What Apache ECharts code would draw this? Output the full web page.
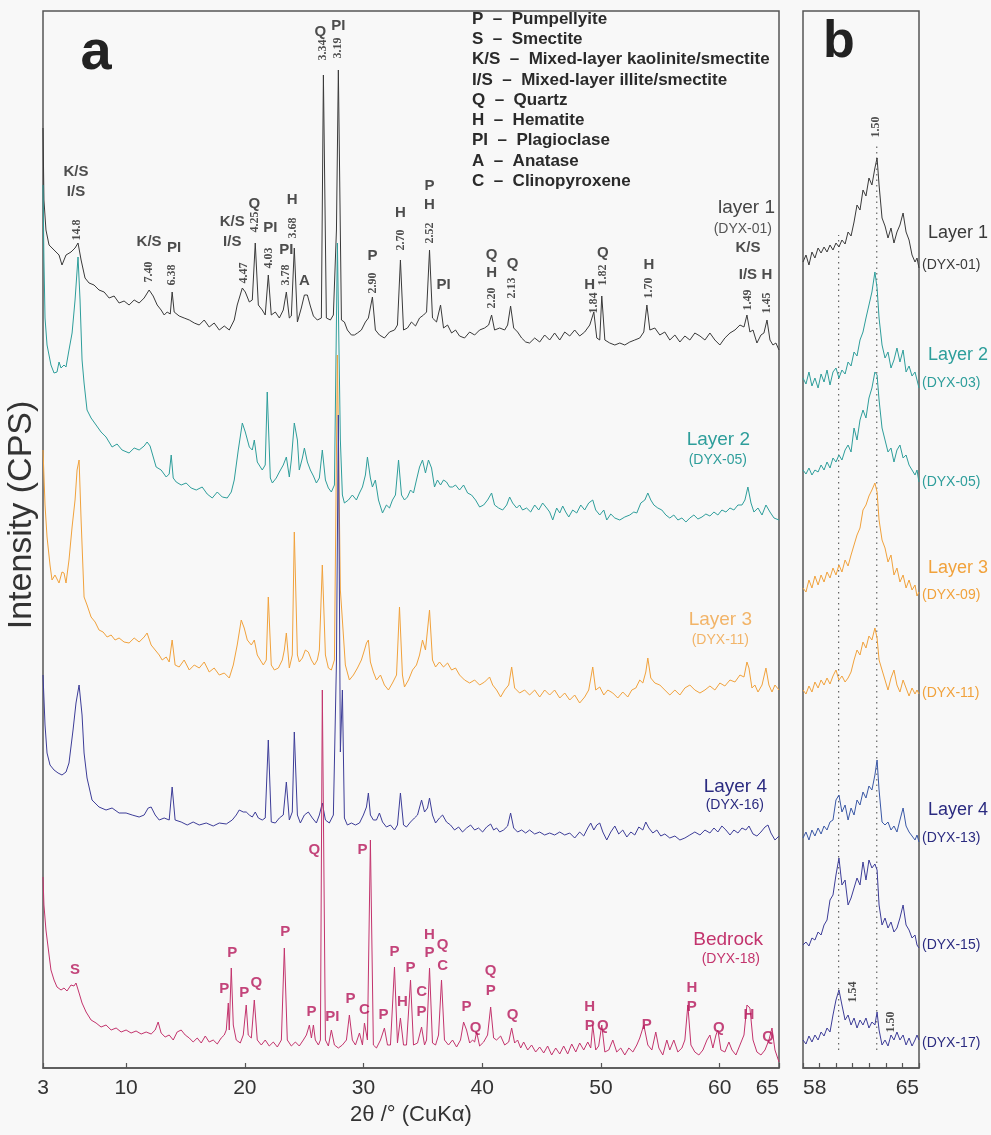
<!DOCTYPE html>
<html>
<head>
<meta charset="utf-8">
<script src="https://cdn.jsdelivr.net/npm/echarts@6/dist/echarts.min.js"></script>
<style>
  html, body { margin: 0; padding: 0; background: #f8f8f8; }
  #chart { width: 991px; height: 1135px; }
</style>
</head>
<body>
<div id="chart"></div>
<script>
// ---------- axis ticks ----------
const fullTicks = [3, 10, 20, 30, 40, 50, 60, 65];
const zoomTicks = [58, 59, 60, 61, 62, 63, 64, 65];

// ---------- panel a: full XRD patterns, [2θ, counts above own baseline] ----------
const layer1 = [
  [3.00,222],[3.08,150],[3.25,120],[3.51,105],[3.93,100],[4.35,95],[4.60,85],[4.94,95],[5.36,98],[5.70,102],
  [5.95,107],[6.21,90],[6.54,72],[6.88,67],[7.30,65],[7.72,60],[8.15,58],[8.57,52],[8.99,54],[9.41,47],
  [9.83,49],[10.25,45],[10.68,50],[11.10,47],[11.52,52],[11.94,60],[12.28,54],[12.62,45],[12.95,40],[13.21,35],
  [13.46,38],[13.72,36],[13.88,58],[14.05,38],[14.47,34],[14.89,32],[15.32,30],[15.74,27],[16.16,25],[16.58,30],
  [17.00,23],[17.42,27],[17.85,20],[18.27,24],[18.69,20],[19.11,30],[19.36,45],[19.79,62],[20.04,58],[20.38,48],
  [20.63,50],[20.88,107],[21.14,45],[21.47,40],[21.72,35],[21.98,75],[22.23,35],[22.57,38],[22.91,32],[23.24,40],
  [23.50,58],[23.75,32],[23.92,34],[24.17,102],[24.43,28],[24.76,42],[25.02,55],[25.27,55],[25.52,44],[25.78,34],
  [26.11,30],[26.45,32],[26.62,275],[26.87,32],[27.21,30],[27.46,35],[27.72,120],[27.88,280],[28.14,30],[28.39,28],
  [28.64,20],[28.98,15],[29.23,15],[29.49,17],[29.82,20],[30.16,28],[30.41,32],[30.75,53],[31.00,20],[31.34,15],
  [31.76,12],[32.19,18],[32.61,20],[32.86,25],[33.11,90],[33.37,20],[33.70,22],[34.04,28],[34.38,24],[34.72,32],
  [35.06,35],[35.31,38],[35.56,100],[35.81,32],[36.15,28],[36.49,45],[36.74,22],[37.08,25],[37.42,17],[37.75,20],
  [38.09,14],[38.51,12],[38.94,18],[39.36,15],[39.78,20],[40.20,22],[40.54,25],[40.79,35],[41.04,20],[41.47,22],
  [41.89,20],[42.14,25],[42.39,44],[42.65,22],[42.98,18],[43.32,12],[43.66,8],[43.99,7],[44.42,12],[44.84,8],
  [45.26,15],[45.68,10],[46.10,17],[46.53,10],[46.95,18],[47.37,14],[47.79,20],[48.21,14],[48.63,18],[49.06,25],
  [49.40,38],[49.65,12],[49.90,10],[50.07,54],[50.33,10],[50.74,7],[51.17,5],[51.59,7],[52.01,5],[52.43,8],
  [52.85,10],[53.27,12],[53.61,18],[53.87,45],[54.12,20],[54.54,22],[54.96,15],[55.38,18],[55.80,10],[56.23,15],
  [56.65,8],[57.07,14],[57.49,10],[57.91,17],[58.34,14],[58.76,10],[59.18,17],[59.60,10],[60.02,5],[60.44,12],
  [60.87,17],[61.29,20],[61.71,25],[62.05,23],[62.30,35],[62.55,18],[62.81,20],[63.14,7],[63.48,15],[63.73,17],
  [63.99,30],[64.24,10],[64.49,5],[64.74,7],[65.00,0]
];

const layer2 = [
  [3.00,340],[3.08,265],[3.17,207],[3.34,180],[3.67,160],[3.93,152],[4.18,153],[4.35,163],[4.52,157],[4.77,160],
  [4.94,158],[5.19,175],[5.45,192],[5.70,225],[5.95,268],[6.12,225],[6.29,165],[6.46,142],[6.71,115],[7.05,107],
  [7.47,100],[7.89,93],[8.31,88],[8.82,78],[9.24,81],[9.66,75],[10.25,72],[10.68,77],[11.10,75],[11.52,79],
  [11.77,83],[12.02,79],[12.53,58],[12.95,55],[13.38,48],[13.63,51],[13.80,70],[13.97,47],[14.22,43],[14.64,40],
  [15.06,42],[15.48,37],[15.91,35],[16.41,38],[16.83,31],[17.26,27],[17.68,33],[18.10,28],[18.52,27],[18.86,33],
  [19.11,45],[19.45,75],[19.79,102],[20.04,93],[20.38,78],[20.63,75],[20.80,85],[21.05,63],[21.47,55],[21.72,60],
  [21.89,133],[22.15,47],[22.32,42],[22.65,47],[22.91,53],[23.24,60],[23.50,68],[23.75,48],[23.92,65],[24.17,102],
  [24.43,85],[24.59,55],[24.85,67],[25.02,77],[25.27,63],[25.52,55],[25.78,49],[26.03,42],[26.28,47],[26.53,75],
  [26.79,45],[27.04,37],[27.29,33],[27.55,40],[27.80,282],[28.05,85],[28.22,30],[28.39,22],[28.73,25],[29.06,30],
  [29.40,25],[29.66,32],[29.91,38],[30.16,50],[30.33,68],[30.58,47],[30.75,38],[31.00,45],[31.26,25],[31.60,12],
  [31.93,20],[32.19,17],[32.44,25],[32.69,30],[32.95,65],[33.20,30],[33.45,25],[33.70,28],[33.96,35],[34.21,32],
  [34.46,45],[34.72,58],[34.97,65],[35.22,52],[35.47,65],[35.73,57],[35.98,38],[36.23,45],[36.49,40],[36.74,45],
  [36.99,43],[37.25,38],[37.50,38],[37.75,40],[38.09,35],[38.43,40],[38.77,32],[39.10,30],[39.44,25],[39.78,18],
  [40.12,20],[40.45,25],[40.79,32],[41.04,20],[41.38,17],[41.72,15],[42.06,20],[42.31,28],[42.56,22],[42.90,17],
  [43.15,20],[43.40,15],[43.74,17],[44.08,13],[44.42,20],[44.76,15],[45.09,22],[45.43,17],[45.68,13],[45.94,5],
  [46.27,17],[46.53,12],[46.78,19],[47.03,13],[47.29,8],[47.62,15],[47.96,12],[48.30,20],[48.63,15],[48.97,22],
  [49.31,25],[49.56,15],[49.90,10],[50.24,15],[50.49,5],[50.83,11],[51.17,7],[51.59,5],[52.01,8],[52.43,10],
  [52.77,13],[53.02,12],[53.36,22],[53.70,25],[53.95,32],[54.20,25],[54.46,20],[54.79,17],[55.13,15],[55.47,10],
  [55.80,7],[56.14,10],[56.48,5],[56.82,7],[57.16,3],[57.49,7],[57.83,10],[58.17,6],[58.51,8],[58.84,11],
  [59.18,9],[59.52,13],[59.85,10],[60.19,15],[60.53,13],[60.87,17],[61.20,15],[61.54,20],[61.88,20],[62.13,25],
  [62.38,38],[62.64,22],[62.89,13],[63.23,17],[63.57,10],[63.90,20],[64.24,13],[64.58,7],[65.00,5]
];

const layer3 = [
  [3.00,255],[3.17,200],[3.34,168],[3.59,140],[3.76,125],[4.01,130],[4.35,122],[4.60,133],[4.77,132],[4.94,122],
  [5.19,145],[5.45,178],[5.70,205],[5.87,235],[6.04,245],[6.21,185],[6.46,108],[6.71,100],[7.05,88],[7.39,83],
  [7.72,75],[8.06,73],[8.40,68],[8.74,70],[9.07,65],[9.41,67],[9.83,63],[10.25,62],[10.68,67],[11.10,63],
  [11.52,68],[11.77,72],[12.11,60],[12.45,55],[12.79,50],[13.04,45],[13.38,48],[13.63,43],[13.88,65],[14.13,40],
  [14.47,38],[14.89,45],[15.32,35],[15.74,40],[16.16,37],[16.58,43],[17.00,33],[17.42,37],[17.85,30],[18.27,32],
  [18.69,27],[19.03,40],[19.36,60],[19.70,85],[19.95,77],[20.21,65],[20.55,60],[20.80,65],[21.05,50],[21.30,45],
  [21.56,40],[21.81,45],[21.98,108],[22.23,40],[22.49,35],[22.83,37],[23.16,45],[23.33,55],[23.50,72],[23.75,37],
  [24.00,50],[24.17,173],[24.43,50],[24.59,43],[24.85,47],[25.10,55],[25.35,53],[25.61,45],[25.86,40],[26.11,45],
  [26.28,55],[26.53,140],[26.79,50],[27.04,37],[27.29,35],[27.55,45],[27.80,350],[28.05,115],[28.22,85],[28.47,40],
  [28.81,25],[29.15,30],[29.49,37],[29.82,45],[30.08,55],[30.25,62],[30.41,65],[30.58,43],[30.83,33],[31.09,25],
  [31.43,30],[31.76,20],[32.10,15],[32.44,22],[32.78,30],[33.03,98],[33.28,30],[33.45,18],[33.79,25],[34.13,35],
  [34.46,40],[34.72,50],[34.97,65],[35.22,55],[35.56,95],[35.81,45],[36.07,38],[36.40,43],[36.74,38],[37.08,42],
  [37.42,35],[37.75,37],[38.09,30],[38.51,25],[38.94,22],[39.36,25],[39.78,20],[40.20,23],[40.62,28],[40.88,20],
  [41.21,15],[41.55,8],[41.89,15],[42.23,20],[42.48,38],[42.73,17],[43.15,12],[43.57,15],[43.99,10],[44.42,15],
  [44.84,8],[45.26,15],[45.68,10],[46.10,15],[46.53,7],[46.95,12],[47.37,5],[47.79,10],[48.21,2],[48.63,8],
  [48.97,15],[49.31,38],[49.56,15],[49.90,18],[50.24,10],[50.58,15],[51.00,12],[51.42,7],[51.84,13],[52.26,8],
  [52.60,15],[52.94,17],[53.27,25],[53.53,22],[53.78,33],[53.95,47],[54.20,27],[54.54,22],[54.96,20],[55.38,15],
  [55.80,10],[56.23,15],[56.65,10],[57.07,17],[57.49,20],[57.91,15],[58.34,12],[58.76,15],[59.18,19],[59.60,15],
  [60.02,22],[60.44,19],[60.87,25],[61.29,23],[61.71,30],[62.05,28],[62.30,43],[62.47,37],[62.72,17],[62.97,20],
  [63.23,13],[63.57,20],[63.90,37],[64.15,20],[64.41,13],[64.66,20],[65.00,15]
];

const layer4 = [
  [3.00,167],[3.17,117],[3.34,89],[3.59,77],[3.93,72],[4.27,69],[4.60,67],[4.94,70],[5.19,79],[5.53,112],
  [5.78,139],[6.04,157],[6.12,159],[6.29,127],[6.46,89],[6.71,64],[7.13,42],[7.72,35],[8.31,32],[8.82,34],
  [9.41,29],[10.00,29],[10.51,27],[11.10,25],[11.52,27],[11.86,34],[12.11,35],[12.45,27],[12.79,22],[13.21,24],
  [13.63,22],[13.88,55],[14.13,22],[14.64,20],[15.15,17],[15.65,20],[16.16,17],[16.75,19],[17.34,16],[17.85,19],
  [18.44,18],[18.94,22],[19.28,27],[19.53,32],[19.87,30],[20.12,30],[20.38,27],[20.63,25],[20.88,30],[21.14,24],
  [21.47,22],[21.72,24],[21.98,102],[22.23,20],[22.57,19],[22.91,24],[23.24,27],[23.50,60],[23.75,22],[24.00,30],
  [24.17,110],[24.43,27],[24.68,19],[25.02,27],[25.35,30],[25.69,24],[26.03,19],[26.28,27],[26.53,39],[26.79,22],
  [27.12,19],[27.46,27],[27.72,180],[27.88,427],[28.05,90],[28.22,152],[28.39,24],[28.64,17],[28.98,19],[29.32,17],
  [29.66,19],[29.99,27],[30.25,35],[30.41,49],[30.58,27],[30.83,22],[31.09,22],[31.34,29],[31.60,20],[31.93,15],
  [32.27,17],[32.61,12],[32.86,17],[33.11,49],[33.37,17],[33.62,15],[33.96,20],[34.29,24],[34.55,27],[34.89,42],
  [35.14,30],[35.39,34],[35.56,44],[35.81,27],[36.07,19],[36.40,24],[36.66,27],[36.99,20],[37.33,17],[37.67,12],
  [38.01,15],[38.34,10],[38.68,14],[39.02,17],[39.36,12],[39.69,14],[40.03,10],[40.37,15],[40.71,18],[40.96,12],
  [41.21,14],[41.47,10],[41.80,12],[42.14,16],[42.39,29],[42.65,14],[42.98,10],[43.32,12],[43.66,9],[43.99,12],
  [44.42,8],[44.84,10],[45.26,7],[45.68,9],[46.10,7],[46.53,10],[46.95,7],[47.37,9],[47.79,4],[48.21,10],
  [48.55,6],[48.89,14],[49.14,19],[49.40,12],[49.65,17],[49.90,19],[50.16,10],[50.49,2],[50.83,10],[51.17,16],
  [51.50,8],[51.84,12],[52.18,5],[52.52,10],[52.85,7],[53.19,15],[53.53,12],[53.78,20],[54.04,14],[54.37,9],
  [54.71,12],[55.04,6],[55.38,8],[55.80,4],[56.23,6],[56.65,2],[57.07,4],[57.49,7],[57.91,10],[58.34,7],
  [58.76,12],[59.18,9],[59.52,14],[59.85,10],[60.19,16],[60.53,12],[60.87,7],[61.20,12],[61.54,9],[61.88,14],
  [62.21,12],[62.47,16],[62.81,8],[63.14,6],[63.48,10],[63.82,15],[64.07,17],[64.32,9],[64.66,2],[65.00,6]
];

const bedrock = [
  [3.00,185],[3.08,157],[3.25,132],[3.51,107],[3.67,92],[3.93,82],[4.18,75],[4.52,72],[4.77,74],[5.02,71],
  [5.36,77],[5.61,76],[5.78,79],[6.04,69],[6.29,59],[6.63,50],[7.05,42],[7.47,39],[7.89,35],[8.31,37],
  [8.74,32],[9.16,34],[9.58,30],[10.00,32],[10.42,29],[10.84,31],[11.27,28],[11.69,30],[12.11,28],[12.45,32],
  [12.70,40],[12.95,29],[13.29,25],[13.63,27],[13.97,22],[14.30,30],[14.64,32],[14.98,27],[15.32,24],[15.65,20],
  [15.99,24],[16.33,19],[16.67,26],[17.00,20],[17.34,22],[17.68,18],[18.01,24],[18.27,27],[18.44,32],[18.61,59],
  [18.69,32],[18.86,94],[19.03,37],[19.28,22],[19.62,19],[19.87,27],[20.12,57],[20.29,27],[20.55,24],[20.80,62],
  [21.05,22],[21.39,17],[21.72,22],[22.06,16],[22.40,20],[22.74,15],[23.08,22],[23.33,114],[23.58,22],[23.92,16],
  [24.26,20],[24.59,16],[24.93,22],[25.19,27],[25.44,37],[25.61,24],[25.78,37],[25.94,22],[26.20,17],[26.37,22],
  [26.53,372],[26.79,22],[27.04,16],[27.29,32],[27.55,17],[27.88,14],[28.22,17],[28.56,22],[28.81,47],[29.06,22],
  [29.32,17],[29.66,29],[29.91,17],[30.08,39],[30.33,22],[30.58,222],[30.83,17],[31.09,14],[31.43,22],[31.76,34],
  [32.02,17],[32.27,17],[32.61,95],[32.86,19],[33.11,44],[33.37,17],[33.62,17],[33.96,82],[34.21,17],[34.55,19],
  [34.89,35],[35.14,17],[35.31,22],[35.56,94],[35.81,19],[36.07,17],[36.32,27],[36.57,82],[36.82,22],[37.16,17],
  [37.50,22],[37.84,15],[38.17,22],[38.43,40],[38.68,32],[38.94,19],[39.19,22],[39.36,20],[39.53,30],[39.78,16],
  [40.12,20],[40.45,27],[40.71,55],[40.96,24],[41.21,22],[41.55,26],[41.89,17],[42.23,20],[42.48,34],[42.73,19],
  [42.98,22],[43.24,14],[43.49,20],[43.83,12],[44.16,17],[44.50,10],[44.84,15],[45.18,9],[45.51,16],[45.85,7],
  [46.19,14],[46.53,8],[46.86,16],[47.20,8],[47.54,18],[47.88,10],[48.21,19],[48.55,12],[48.89,20],[49.14,14],
  [49.31,37],[49.56,12],[49.81,16],[50.07,37],[50.33,10],[50.66,12],[51.00,22],[51.33,10],[51.67,14],[52.01,7],
  [52.35,14],[52.69,10],[53.02,17],[53.27,24],[53.61,37],[53.95,17],[54.29,12],[54.62,30],[54.88,14],[55.21,7],
  [55.55,22],[55.80,12],[56.14,22],[56.48,10],[56.82,14],[57.07,22],[57.32,57],[57.58,17],[57.91,10],[58.25,7],
  [58.59,12],[58.93,22],[59.18,27],[59.43,14],[59.69,27],[59.85,32],[60.11,12],[60.44,10],[60.78,20],[61.04,12],
  [61.37,7],[61.71,17],[62.05,27],[62.30,57],[62.55,54],[62.81,22],[63.14,10],[63.48,7],[63.82,12],[64.15,22],
  [64.41,34],[64.66,12],[65.00,0]
];

// vertical stacking offsets for panel a
const fullOffsets = [718, 543, 363, 226, 6];

// ---------- panel b: 58–65° detail scans ----------
const zoomAngles = [58.00,58.18,58.36,58.54,58.72,58.91,59.09,59.27,59.45,59.63,59.81,59.99,60.17,60.35,60.54,
  60.72,60.90,61.08,61.26,61.44,61.62,61.80,61.98,62.16,62.34,62.47,62.59,62.77,62.95,63.13,63.31,63.49,63.67,
  63.85,64.04,64.22,64.40,64.58,64.76,64.88,65.00];
const dyx01 = [8,15,5,18,12,22,17,23,18,25,20,27,23,30,26,38,34,48,65,60,80,74,92,85,102,112,85,52,44,32,42,27,38,45,57,38,30,15,8,12,2];
const dyx03 = [14,8,20,6,14,4,18,10,22,7,20,24,14,22,18,30,26,40,36,52,60,74,87,100,120,104,74,47,34,40,24,32,44,30,42,20,26,16,20,12,4];
const dyx05 = [18,14,20,13,18,16,23,18,26,20,30,26,33,28,38,43,36,60,48,68,78,70,90,100,116,113,88,60,48,36,40,26,38,43,30,33,23,18,13,18,6];
const dyx09 = [12,8,20,12,24,15,25,18,28,22,32,25,35,28,40,34,45,55,65,72,90,95,104,110,117,108,80,60,52,38,45,25,32,18,25,12,20,10,15,4,8];
const dyx11 = [10,6,14,8,18,12,20,15,22,16,24,30,20,24,18,22,28,40,50,45,58,52,64,60,72,62,40,30,20,10,22,30,15,8,20,12,4,12,6,10,6];
const dyx13 = [10,16,8,18,12,20,14,22,18,26,28,48,53,36,43,28,40,33,48,43,56,50,62,58,73,88,58,26,23,26,18,22,16,28,40,22,16,12,8,13,6];
const dyx15 = [7,10,6,14,12,20,17,27,32,52,57,77,94,67,72,47,54,64,74,67,90,72,92,84,88,82,47,27,34,24,30,20,24,34,47,27,22,14,17,7,4];
const dyx17 = [12,8,16,10,17,12,20,16,24,20,37,52,62,47,32,37,27,34,24,32,27,34,24,30,27,40,22,7,12,6,17,12,20,12,17,7,14,6,12,17,12];
const zoomOffsets = [798, 676, 580, 468, 368, 220, 116, 16];

// dotted guide lines in panel b: 2θ position and vertical reach
const guideAngles = [60.15, 62.45];
const guideTops = [833, 923];

// ---------- peak annotations ----------
// mineral letters above the layer-1 pattern
const layer1Phases = [
  [5.78,896,'K/S'],[5.78,876,'I/S'],[11.94,826,'K/S'],[14.05,820,'PI'],[18.94,846,'K/S'],[18.94,826,'I/S'],
  [20.80,864,'Q'],[22.15,840,'PI'],[23.50,818,'PI'],[24.00,868,'H'],[25.02,787,'A'],[26.37,1036,'Q'],
  [27.88,1042,'PI'],[30.75,812,'P'],[33.11,855,'H'],[35.56,882,'P'],[35.56,863,'H'],[36.74,783,'PI'],
  [40.79,813,'Q'],[40.79,795,'H'],[42.56,804,'Q'],[49.06,783,'H'],[50.16,815,'Q'],[54.04,803,'H'],
  [62.38,820,'K/S'],[62.38,793,'I/S'],[63.99,793,'H']
];
// d-spacings (Å) written vertically above the layer-1 peaks
const layer1Spacings = [
  [5.87,838,'14.8'],[11.94,796,'7.40'],[13.88,793,'6.38'],[19.95,795,'4.47'],[20.88,846,'4.25'],[22.06,810,'4.03'],
  [23.50,793,'3.78'],[24.09,840,'3.68'],[26.62,1018,'3.34'],[27.88,1020,'3.19'],[30.75,785,'2.90'],[33.11,828,'2.70'],
  [35.56,835,'2.52'],[40.79,770,'2.20'],[42.48,780,'2.13'],[49.40,765,'1.84'],[50.16,793,'1.82'],[54.04,780,'1.70'],
  [62.38,768,'1.49'],[63.99,765,'1.45']
];
// mineral letters above the bedrock pattern
const bedrockPhases = [
  [25.86,218,'Q'],[29.91,218,'P'],[5.70,98,'S'],[18.94,115,'P'],[18.27,79,'P'],[19.95,75,'P'],[20.97,85,'Q'],
  [23.41,136,'P'],[25.61,56,'P'],[27.38,51,'PI'],[28.90,69,'P'],[30.08,58,'C'],[31.68,53,'P'],[32.61,116,'P'],
  [33.28,66,'H'],[33.96,100,'P'],[34.89,76,'C'],[34.89,56,'P'],[35.56,133,'H'],[35.56,115,'P'],[36.66,123,'Q'],
  [36.66,102,'C'],[38.68,61,'P'],[39.44,40,'Q'],[40.71,97,'Q'],[40.71,77,'P'],[42.56,53,'Q'],[49.06,61,'H'],
  [49.06,42,'P'],[50.16,42,'Q'],[53.87,43,'P'],[57.66,80,'H'],[57.66,61,'P'],[59.94,40,'Q'],[62.47,53,'H'],
  [64.07,31,'Q']
];
const zoomSpacings = [[62.41,941,'1.50'],[61.02,76,'1.54'],[63.31,46,'1.50']];

// mineral key
const keyAbbr = ['P', 'S', 'K/S', 'I/S', 'Q', 'H', 'PI', 'A', 'C'];
const keyName = ['Pumpellyite', 'Smectite', 'Mixed-layer kaolinite/smectite', 'Mixed-layer illite/smectite',
  'Quartz', 'Hematite', 'Plagioclase', 'Anatase', 'Clinopyroxene'];

// ---------- styling ----------
const C_BLACK = '#3a3a3a', C_TEAL = '#2e9e9b', C_ORANGE = '#f1a23c', C_NAVY = '#3d3d98',
      C_CRIMSON = '#c3346d', C_BLUE = '#3a58a6';
const SANS = "'Liberation Sans', Arial, sans-serif";
const NARROW = "'Liberation Sans Narrow', 'Liberation Sans', Arial, sans-serif";
const SERIF = "'Liberation Serif', 'Times New Roman', serif";

const A = { left: 43, top: 11, width: 736, height: 1057 };
const B = { left: 803, top: 11, width: 116, height: 1057 };

const shift = (data, off) => data.map(p => [p[0], p[1] + off]);
const zipShift = (vals, off) => zoomAngles.map((a, i) => [a, vals[i] + off]);

function trace(data, color, xi) {
  return { type: 'line', xAxisIndex: xi, yAxisIndex: xi, data, showSymbol: false, symbol: 'none',
           lineStyle: { color, width: 1 }, silent: true, animation: false };
}
function labels(items, xi, color, font, size, rotate, weight) {
  return { type: 'scatter', xAxisIndex: xi, yAxisIndex: xi, symbolSize: 0, silent: true, animation: false, z: 5,
    data: items.map(d => ({ value: [d[0], d[1]], name: d[2] })),
    label: { show: true, position: 'inside', formatter: p => p.name, color, fontFamily: font,
             fontSize: size, fontWeight: weight || 'bold', rotate: rotate || 0 } };
}
function axisX(grid, min, max, ticks, alignMin) {
  return { type: 'value', gridIndex: grid, min, max,
    splitLine: { show: false },
    axisLine: { show: true, lineStyle: { color: '#555', width: 1.5 } },
    axisTick: { show: true, inside: true, length: 5, customValues: ticks, lineStyle: { color: '#555', width: 1.2 } },
    axisLabel: { show: true, customValues: grid === 0 ? ticks : [58, 65], color: '#333', fontSize: 21,
                 fontFamily: NARROW, margin: 10, alignMinLabel: alignMin, alignMaxLabel: 'right' } };
}
function axisY(grid) {
  return { type: 'value', gridIndex: grid, min: 0, max: 1057, show: false, splitLine: { show: false } };
}

const series = [
  trace(shift(layer1, fullOffsets[0]), C_BLACK, 0),
  trace(shift(layer2, fullOffsets[1]), C_TEAL, 0),
  trace(shift(layer3, fullOffsets[2]), C_ORANGE, 0),
  trace(shift(layer4, fullOffsets[3]), C_NAVY, 0),
  trace(shift(bedrock, fullOffsets[4]), C_CRIMSON, 0),
  labels(layer1Phases, 0, '#222', SANS, 15),
  labels(layer1Spacings, 0, '#222', SERIF, 12, 90),
  labels(bedrockPhases, 0, '#b5175a', SANS, 15)
];
// guide lines in panel b
guideAngles.forEach((a, i) => {
  series.push({ type: 'line', xAxisIndex: 1, yAxisIndex: 1, data: [[a, 18], [a, guideTops[i]]],
    showSymbol: false, symbol: 'none', silent: true, animation: false,
    lineStyle: { color: '#666', width: 1.2, type: [1.5, 4] } });
});
const zoomSets = [dyx01, dyx03, dyx05, dyx09, dyx11, dyx13, dyx15, dyx17];
const zoomColors = [C_BLACK, C_TEAL, C_TEAL, C_ORANGE, C_ORANGE, C_BLUE, C_NAVY, C_NAVY];
zoomSets.forEach((v, i) => series.push(trace(zipShift(v, zoomOffsets[i]), zoomColors[i], 1)));
series.push(labels(zoomSpacings, 1, '#222', SERIF, 12, 90));

// panel letters, axis title and key
const graphics = [
  { type: 'text', x: 96, y: 54, style: { text: 'a', font: `bold 56px ${SANS}`, fill: '#222', align: 'center', verticalAlign: 'middle' } },
  { type: 'text', x: 839, y: 43, style: { text: 'b', font: `bold 52px ${SANS}`, fill: '#222', align: 'center', verticalAlign: 'middle' } },
  { type: 'text', x: 22, y: 515, rotation: Math.PI / 2,
    style: { text: 'Intensity (CPS)', font: `34px ${SANS}`, fill: '#333', align: 'center', verticalAlign: 'middle' } }
];
keyAbbr.forEach((k, i) => {
  graphics.push({ type: 'text', x: 472, y: 19 + i * 20.3,
    style: { text: `${k}  \u2013  ${keyName[i]}`, font: `bold 17px ${SANS}`, fill: '#2a2a2a', verticalAlign: 'middle' } });
});
// pattern names inside panel a: label, sample, colours, right edge, label y, sample y
const names = [
  ['layer 1', '(DYX-01)', '#444', '#555', 775, 208, 229],
  ['Layer 2', '(DYX-05)', C_TEAL, C_TEAL, 750, 440, 460],
  ['Layer 3', '(DYX-11)', '#f2b468', '#f2b468', 752, 620, 640],
  ['Layer 4', '(DYX-16)', '#2b2b80', '#2b2b80', 767, 787, 805],
  ['Bedrock', '(DYX-18)', C_CRIMSON, C_CRIMSON, 763, 940, 959]
];
names.forEach(n => {
  graphics.push({ type: 'text', x: n[4], y: n[5],
    style: { text: n[0], font: `19px ${SANS}`, fill: n[2], align: 'right', verticalAlign: 'middle' } });
  graphics.push({ type: 'text', x: n[4] - 3, y: n[6],
    style: { text: n[1], font: `14px ${SANS}`, fill: n[3], align: 'right', verticalAlign: 'middle' } });
});
const zoomNames = [
  ['Layer 1', C_BLACK, 233], ['(DYX-01)', C_BLACK, 265], ['Layer 2', C_TEAL, 355], ['(DYX-03)', C_TEAL, 383],
  ['(DYX-05)', C_TEAL, 482], ['Layer 3', C_ORANGE, 568], ['(DYX-09)', C_ORANGE, 595], ['(DYX-11)', C_ORANGE, 693],
  ['Layer 4', '#2b2b80', 810], ['(DYX-13)', '#2b2b80', 838], ['(DYX-15)', '#2b2b80', 945], ['(DYX-17)', '#2b2b80', 1043]
];
zoomNames.forEach(n => {
  const big = n[0].startsWith('Layer');
  graphics.push({ type: 'text', x: big ? 928 : 922, y: n[2],
    style: { text: n[0], font: `${big ? 18 : 14}px ${SANS}`, fill: n[1], verticalAlign: 'middle' } });
});

const chart = echarts.init(document.getElementById('chart'), null, { renderer: 'canvas' });
chart.setOption({
  backgroundColor: '#f8f8f8',
  animation: false,
  grid: [
    Object.assign({ show: true, borderColor: '#555', borderWidth: 1.5, backgroundColor: 'transparent' }, A),
    Object.assign({ show: true, borderColor: '#555', borderWidth: 1.5, backgroundColor: 'transparent' }, B)
  ],
  xAxis: [
    Object.assign(axisX(0, 3, 65, fullTicks, 'center'), {
      name: '2\u03b8 /\u00b0 (CuK\u03b1)', nameLocation: 'middle', nameGap: 35,
      nameTextStyle: { fontSize: 22, color: '#333', fontFamily: NARROW } }),
    axisX(1, 58, 65, zoomTicks, 'left')
  ],
  yAxis: [axisY(0), axisY(1)],
  series,
  graphic: graphics
});
</script>
</body>
</html>
